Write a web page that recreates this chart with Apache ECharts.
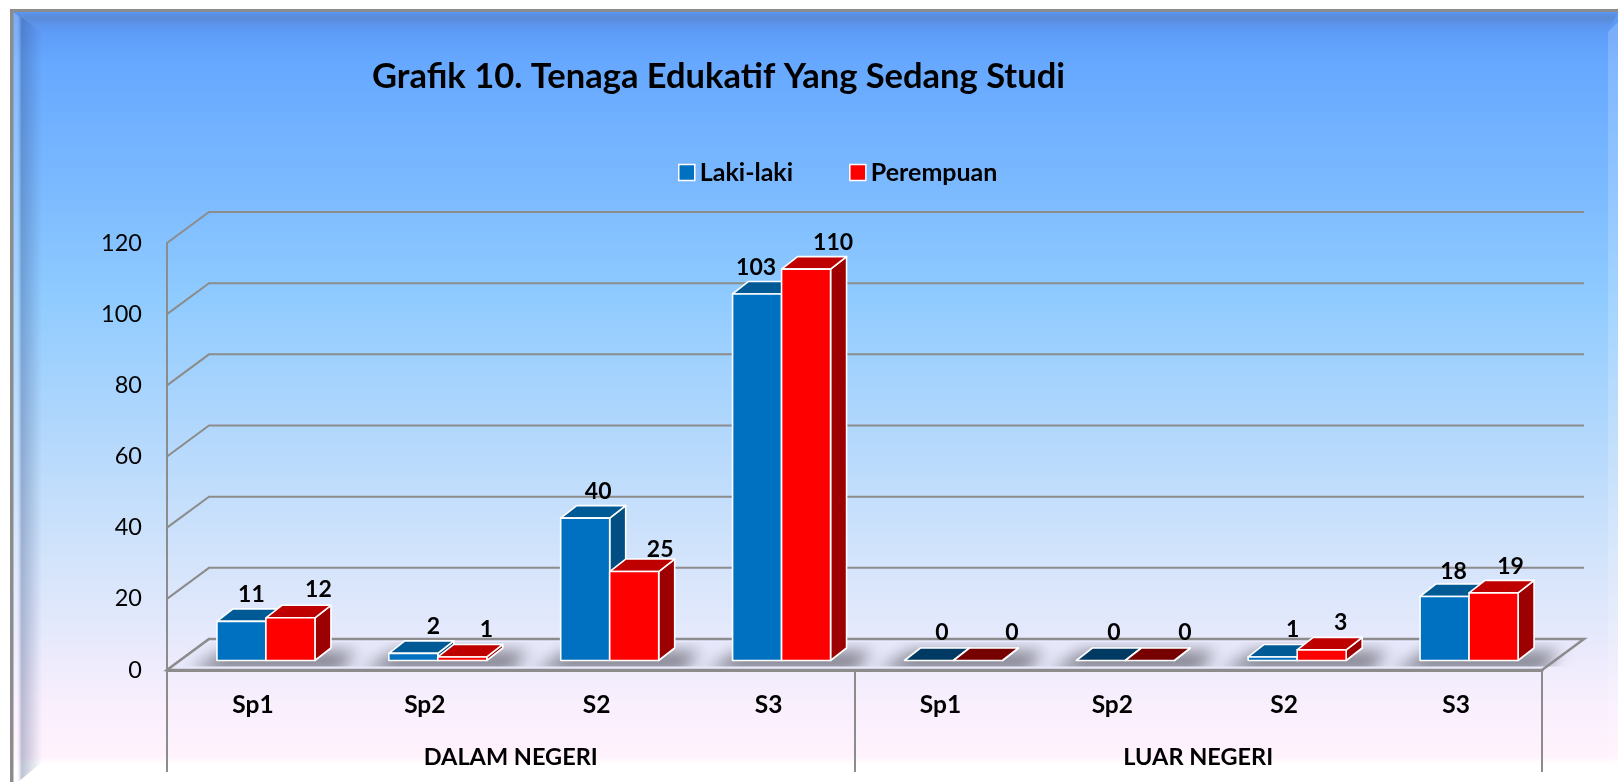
<!DOCTYPE html>
<html>
<head>
<meta charset="utf-8">
<style>html,body{margin:0;padding:0;background:#fff}#c{width:1618px;height:782px}</style>
<script src="https://cdn.jsdelivr.net/npm/echarts@6/dist/echarts.min.js"></script>
</head>
<body>
<div id="c"></div>
<script>
const categories = ['Sp1', 'Sp2', 'S2', 'S3', 'Sp1', 'Sp2', 'S2', 'S3'];
const groupLabels = ['DALAM NEGERI', 'LUAR NEGERI'];
const lakiLaki = [11, 2, 40, 103, 0, 0, 1, 18];
const perempuan = [12, 1, 25, 110, 0, 0, 3, 19];
const yTicks = [0, 20, 40, 60, 80, 100, 120];

// label nudges relative to the front-top centre of each bar
const lakiLabelDx = [10, 20, 13, -1, 13, 13, 20, 9];
const lakiLabelDy = [-27, -27, -27, -26, -28, -28, -27, -25];
const perempuanLabelDx = [28, 24, 26, 27, 34, 35, 19, 17];
const perempuanLabelDy = [-28, -27, -22, -27, -28, -28, -27, -26];

const GRAY = '#8c8c8c';
const FONT = 'Lato, Carlito, sans-serif';
const WALL_DX = 42, WALL_DY = -31;      // wall depth
const FLOOR_DX = 13, FLOOR_DY = -9.5;   // bar front plane
const BAR_W = 49, BAR_DX = 16, BAR_DY = -12.5; // bar width, bar depth

const chart = echarts.init(document.getElementById('c'), null, {renderer: 'canvas'});

function seriesBars(name, values, slot, palette, labelDx, labelDy, z) {
  return {
    type: 'custom', name, z, clip: false, silent: true,
    itemStyle: {color: palette.front},
    encode: {x: 0, y: 1},
    data: categories.map((c, i) => [i, values[i]]),
    renderItem(params, api) {
      const i = api.value(0), v = api.value(1);
      const b = api.coord([i, 0]), t = api.coord([i, v]);
      const x0 = b[0] + FLOOR_DX + slot * BAR_W, x1 = x0 + BAR_W;
      const y0 = b[1] + FLOOR_DY, y1 = t[1] + FLOOR_DY;
      const stroke = {stroke: '#fff', lineWidth: 1.6, lineJoin: 'round'};
      const kids = [];
      kids.push({type: 'polygon', shape: {points: [[x1, y0], [x1 + BAR_DX, y0 + BAR_DY], [x1 + BAR_DX, y1 + BAR_DY], [x1, y1]]},
        style: Object.assign({fill: palette.side}, stroke)});
      kids.push({type: 'polygon', shape: {points: [[x0, y1], [x0 + BAR_DX, y1 + BAR_DY], [x1 + BAR_DX, y1 + BAR_DY], [x1, y1]]},
        style: Object.assign({fill: v === 0 ? palette.zero : palette.top}, stroke)});
      if (v > 0) {
        kids.push({type: 'polygon', shape: {points: [[x0, y0], [x1, y0], [x1, y1], [x0, y1]]},
          style: Object.assign({fill: palette.front}, stroke)});
      }
      kids.push({type: 'text', z2: 50, style: {
        text: String(v), x: (x0 + x1) / 2 + labelDx[i], y: y1 + labelDy[i],
        align: 'center', verticalAlign: 'middle', fill: '#000',
        font: 'bold 23px ' + FONT}});
      return {type: 'group', children: kids};
    }
  };
}

const option = {
  animation: false,
  backgroundColor: '#fff',
  textStyle: {fontFamily: FONT},
  title: {
    text: 'Grafik 10. Tenaga Edukatif Yang Sedang Studi',
    left: 367, top: 54,
    textStyle: {fontFamily: FONT, fontWeight: 'bold', fontSize: 34.5, color: '#000'}
  },
  legend: {
    left: 673, top: 155, itemWidth: 16, itemHeight: 16, itemGap: 56,
    icon: 'rect',
    textStyle: {fontFamily: FONT, fontWeight: 'bold', fontSize: 25, color: '#000'},
    data: [
      {name: 'Laki-laki', itemStyle: {color: '#0070C0', borderColor: '#fff', borderWidth: 1.5}},
      {name: 'Perempuan', itemStyle: {color: '#FF0000', borderColor: '#fff', borderWidth: 1.5}}
    ]
  },
  grid: {left: 167, right: 76, top: 243, bottom: 112},
  xAxis: [
    {
      type: 'category', data: categories,
      axisLine: {show: true, lineStyle: {color: GRAY, width: 3}},
      axisTick: {show: false},
      axisLabel: {interval: 0, margin: 23, fontFamily: FONT, fontWeight: 'bold', fontSize: 24.5, color: '#000'},
      z: 6
    },
    {
      type: 'category', data: groupLabels, position: 'bottom',
      axisLine: {show: false},
      axisTick: {show: true, length: 102, lineStyle: {color: GRAY, width: 2}},
      axisLabel: {interval: 0, margin: 75, fontFamily: FONT, fontWeight: 'bold', fontSize: 23.5, color: '#000'}
    }
  ],
  yAxis: {
    type: 'value', min: 0, max: 120, interval: 20,
    axisLine: {show: true, lineStyle: {color: GRAY, width: 2}},
    axisTick: {show: false},
    splitLine: {show: false},
    axisLabel: {margin: 25, fontFamily: FONT, fontSize: 23.5, color: '#000', padding: [5, 0, 0, 0]},
    z: 6
  },
  graphic: [
    // panel gradient
    {type: 'rect', z: -20, shape: {x: 10, y: 9, width: 1608, height: 755}, style: {
      fill: new echarts.graphic.LinearGradient(0, 0, 0, 1, [
        {offset: 0, color: '#5b96f2'},
        {offset: 0.04, color: '#5f9ef9'},
        {offset: 0.07, color: '#66a8ff'},
        {offset: 0.25, color: '#7dbbff'},
        {offset: 0.38, color: '#8fcbff'},
        {offset: 0.58, color: '#b6d9fc'},
        {offset: 0.73, color: '#d3e4fb'},
        {offset: 0.83, color: '#e6e9fc'},
        {offset: 0.92, color: '#f9effd'},
        {offset: 0.99, color: '#fff2fd'},
        {offset: 1, color: '#ffffff'}
      ])}},
    // top bevel
    {type: 'polygon', z: -19, shape: {points: [[12, 12], [1618, 12], [1608, 32], [40, 32]]}, style: {
      fill: new echarts.graphic.LinearGradient(0, 0, 0, 1, [
        {offset: 0, color: 'rgba(90,150,245,0.9)'},
        {offset: 0.3, color: 'rgba(90,135,205,0.8)'},
        {offset: 1, color: 'rgba(90,150,245,0.1)'}
      ])}},
    // left bevel
    {type: 'polygon', z: -19, shape: {points: [[13, 12], [42, 32], [42, 762], [18, 782], [13, 782]]}, style: {
      fill: new echarts.graphic.LinearGradient(0, 0, 1, 0, [
        {offset: 0, color: 'rgba(255,255,255,0.2)'},
        {offset: 0.15, color: 'rgba(255,255,255,0.2)'},
        {offset: 0.3, color: 'rgba(50,70,120,0.32)'},
        {offset: 1, color: 'rgba(50,70,120,0)'}
      ])}},
    // right bevel
    {type: 'polygon', z: -19, shape: {points: [[1618, 22], [1608, 32], [1608, 762], [1618, 772]]}, style: {fill: 'rgba(255,255,255,0.18)'}},
    // outer edges
    {type: 'rect', z: -18, shape: {x: 10, y: 9, width: 1608, height: 3}, style: {fill: GRAY}},
    {type: 'rect', z: -18, shape: {x: 10, y: 9, width: 3.5, height: 773}, style: {fill: GRAY}}
  ],
  series: [
    // back-wall grid lines, running from the front axis into depth
    {
      type: 'custom', z: 1, clip: false, silent: true, encode: {x: 0, y: 1},
      data: yTicks.map(v => [0, v]),
      renderItem(params, api) {
        const p = api.coord([0, api.value(1)]);
        const cs = params.coordSys;
        return {type: 'polyline', shape: {points: [[cs.x, p[1]], [cs.x + WALL_DX, p[1] + WALL_DY], [cs.x + cs.width + WALL_DX, p[1] + WALL_DY]]},
          style: {stroke: GRAY, lineWidth: 2, fill: null}};
      }
    },
    // floor
    {
      type: 'custom', z: 2, clip: false, silent: true, encode: {x: 0, y: 1},
      data: [[0, 0]],
      renderItem(params, api) {
        const p = api.coord([0, 0]);
        const cs = params.coordSys;
        return {type: 'polygon', shape: {points: [[cs.x, p[1]], [cs.x + WALL_DX, p[1] + WALL_DY], [cs.x + cs.width + WALL_DX, p[1] + WALL_DY], [cs.x + cs.width, p[1]]]},
          style: {fill: '#e8e9fc', stroke: GRAY, lineWidth: 2.5}};
      }
    },
    // soft bar shadows on the floor: the shape sits off-canvas, only its blurred shadow lands on the floor
    {
      type: 'custom', z: 3, clip: false, silent: true, encode: {x: 0, y: 1},
      data: categories.map((c, i) => [i, 0]),
      renderItem(params, api) {
        const p = api.coord([api.value(0), 0]);
        const OFF = 4000;
        return {
          type: 'group',
          clipPath: {type: 'rect', shape: {x: p[0] - 120, y: p[1] - 28, width: 280, height: 24.5}},
          children: [{type: 'polygon', shape: {points: [[p[0] - 64 - OFF, p[1] + 2], [p[0] - 30 - OFF, p[1] - 19], [p[0] + 104 - OFF, p[1] - 19], [p[0] + 86 - OFF, p[1] + 2]]},
            style: {fill: '#000', shadowBlur: 16, shadowColor: '#83838f', shadowOffsetX: OFF}}]
        };
      }
    },
    seriesBars('Laki-laki', lakiLaki, -1, {front: '#0070C0', top: '#005A96', side: '#004E82', zero: '#003A63'}, lakiLabelDx, lakiLabelDy, 4),
    seriesBars('Perempuan', perempuan, 0, {front: '#FF0000', top: '#BF0000', side: '#9C0000', zero: '#760000'}, perempuanLabelDx, perempuanLabelDy, 5)
  ]
};
chart.setOption(option);
</script>
</body>
</html>
